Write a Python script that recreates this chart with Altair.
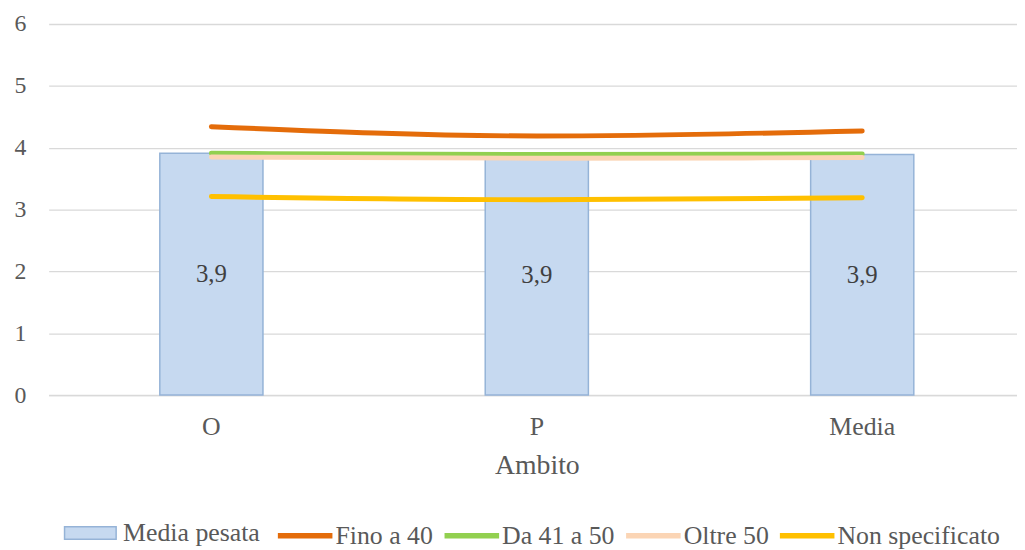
import altair as alt
import pandas as pd

categories = ["O", "P", "Media"]
media_pesata = [3.91, 3.88, 3.89]
fino_a_40 = [4.34, 4.19, 4.27]
da_41_a_50 = [3.91, 3.89, 3.90]
oltre_50 = [3.85, 3.83, 3.84]
non_specificato = [3.21, 3.16, 3.19]
series_names = ["Fino a 40", "Da 41 a 50", "Oltre 50", "Non specificato"]
series_values = [fino_a_40, da_41_a_50, oltre_50, non_specificato]
series_colors = ["#E46C0A", "#92D050", "#FBD5B5", "#FFC000"]
y_ticks = [0, 1, 2, 3, 4, 5, 6]

FONT = "Liberation Serif"
GREY = "#595959"

bars_df = pd.DataFrame({"Ambito": categories, "v": media_pesata,
                        "s": ["Media pesata"] * len(categories)})
rows = []
for i, (name, vals) in enumerate(zip(series_names, series_values)):
    for c, v in zip(categories, vals):
        rows.append({"Ambito": c, "v": v, "serie": name})
lines_df = pd.DataFrame(rows)

x_enc = alt.X(
    "Ambito:N", sort=categories,
    scale=alt.Scale(range=[0, 984], paddingInner=0.683, paddingOuter=0.3415),
    axis=alt.Axis(title="Ambito", labelAngle=0, labelFont=FONT, labelFontSize=26,
                  labelColor=GREY, labelPadding=19, ticks=False,
                  domainColor="#D9D9D9", domainWidth=1.5, grid=False,
                  titleFont=FONT, titleFontSize=28, titleFontWeight="normal",
                  titleColor=GREY, titlePadding=12),
)
y_enc = alt.Y(
    "v:Q", scale=alt.Scale(domain=[0, 6], nice=False, zero=True),
    axis=alt.Axis(title=None, values=y_ticks, format="d", labelFont=FONT,
                  labelFontSize=24, labelColor=GREY, labelPadding=23, ticks=False,
                  domain=False, gridColor="#D9D9D9", gridWidth=1.3),
)

bars = alt.Chart(bars_df).mark_bar(stroke="#95B3D7", strokeWidth=1.5).encode(
    x=x_enc, y=y_enc,
    fill=alt.Fill("s:N", scale=alt.Scale(domain=["Media pesata"], range=["#C6D9F0"]),
                  legend=alt.Legend(
                      title=None, orient="none", legendX=15, legendY=486,
                      direction="horizontal",
                      symbolType="M-1,-0.245H1V0.245H-1Z", symbolSize=2704,
                      symbolStrokeColor="#95B3D7", symbolStrokeWidth=1.5,
                      labelFont=FONT, labelFontSize=26, labelColor=GREY,
                      labelOffset=6, labelLimit=400, padding=0)),
)

labels = alt.Chart(bars_df).transform_calculate(
    half="datum.v / 2",
    lab="replace(format(datum.v, '.1f'), '.', ',')",
).mark_text(font=FONT, fontSize=25, color="#404040", baseline="middle").encode(
    x=alt.X("Ambito:N", sort=categories),
    y=alt.Y("half:Q"),
    text="lab:N",
)

stroke_enc = alt.Stroke(
    "serie:N", sort=series_names,
    scale=alt.Scale(domain=series_names, range=series_colors),
    legend=alt.Legend(
        title=None, orient="none", legendX=228, legendY=485,
        direction="horizontal", symbolType="stroke",
        symbolSize=3025, symbolStrokeWidth=5.5,
        labelFont=FONT, labelFontSize=26, labelColor=GREY,
        labelOffset=0, columnPadding=0, labelLimit=400, padding=0),
)

line_layers = []
for name in series_names:
    line_layers.append(
        alt.Chart(lines_df).transform_filter(alt.datum.serie == name).mark_line(
            interpolate="monotone", strokeWidth=5, strokeCap="round"
        ).encode(
            x=alt.X("Ambito:N", sort=categories),
            y=alt.Y("v:Q"),
            stroke=stroke_enc,
        )
    )

chart = alt.layer(bars, labels, *line_layers).resolve_legend(
    fill="independent", stroke="shared"
).properties(
    width=976, height=374,
    autosize=alt.AutoSizeParams(type="none"),
    padding={"left": 41, "top": 14, "right": 0, "bottom": 154},
    background="white",
).configure_view(stroke=None)

chart.save("out.html", embed_options={"renderer": "svg", "actions": False})
